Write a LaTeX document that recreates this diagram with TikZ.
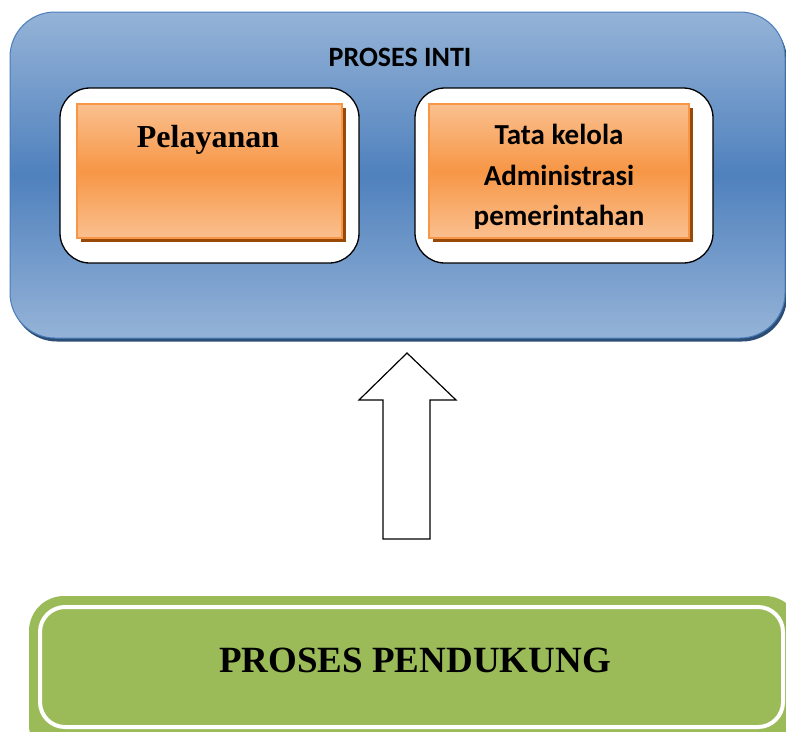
\documentclass[tikz,border=0pt]{standalone}
\usepackage{fontspec}
\setmainfont{Liberation Serif}
\newfontfamily\carlito{Carlito}
\usetikzlibrary{shadows}
\definecolor{bluelight}{HTML}{95B3D7}
\definecolor{bluemid}{HTML}{4F81BD}
\definecolor{blueborder}{HTML}{4A7EBB}
\definecolor{blueshadow}{HTML}{2C4D75}
\definecolor{orlight}{HTML}{FAC08F}
\definecolor{ormid}{HTML}{F79646}
\definecolor{orshadow}{HTML}{984807}
\definecolor{greenfill}{HTML}{9BBB59}
\begin{document}
\begin{tikzpicture}[x=1pt,y=-1pt,
  corebox/.style={draw=blueborder, line width=1pt, rounded corners=45pt,
    top color=bluelight, bottom color=bluelight, middle color=bluemid,
    minimum width=775pt, minimum height=326pt, inner sep=0pt,
    drop shadow={shadow xshift=2pt, shadow yshift=-3.5pt, fill=blueshadow, opacity=1}},
  whitebox/.style={draw=black, line width=1.3pt, fill=white, rounded corners=30pt,
    minimum height=175pt, inner sep=0pt},
  orbox/.style={draw=ormid, line width=1.2pt,
    top color=orlight, bottom color=orlight, middle color=ormid,
    minimum height=134pt, inner sep=0pt,
    drop shadow={shadow xshift=4pt, shadow yshift=-4pt, fill=orshadow, opacity=1}},
  label/.style={anchor=base, inner sep=0pt, text=black},
  blockarrow/.style={draw=black, line width=1.2pt, fill=white, line join=miter}
]
\clip (0,0) rectangle (786,731);
\fill[white] (0,0) rectangle (786,731);

% core process container
\node[corebox] (core) at (397.5,175) {};
\node[label, font=\carlito\bfseries\fontsize{28}{30}\selectfont] (coretitle) at (400,66) {PROSES INTI};

% inner white frames
\node[whitebox, minimum width=299pt] (wleft) at (209.5,175.5) {};
\node[whitebox, minimum width=298pt] (wright) at (564,175.5) {};

% orange boxes
\node[orbox, minimum width=265pt] (pel) at (209.5,171) {};
\node[orbox, minimum width=260pt] (tata) at (559,171) {};

\node[label, font=\bfseries\fontsize{32}{34}\selectfont] (peltext) at (208,147) {Pelayanan};
\begin{scope}
  \clip (429,104) rectangle (689,228);
  \node[label, font=\carlito\bfseries\fontsize{29}{31}\selectfont] (t1) at (559,144) {Tata kelola};
  \node[label, font=\carlito\bfseries\fontsize{29}{31}\selectfont] (t2) at (559,185) {Administrasi};
  \node[label, font=\carlito\bfseries\fontsize{29}{31}\selectfont] (t3) at (559,225) {pemerintahan};
\end{scope}

% block arrow
\draw[blockarrow] (407,353) -- (456,400) -- (430,400) -- (430,539) -- (383,539)
  -- (383,400) -- (359,400) -- cycle;

% supporting process
\node[fill=greenfill, rounded corners=35pt, minimum width=771pt, minimum height=164pt, inner sep=0pt] (supp) at (414.5,678) {};
\node[draw=white, line width=4pt, rounded corners=25pt, minimum width=743pt, minimum height=120pt, inner sep=0pt] (suppline) at (411.5,667) {};
\node[label, font=\bfseries\fontsize{37}{39}\selectfont] (supptext) at (415,672) {PROSES PENDUKUNG};
\end{tikzpicture}
\end{document}
